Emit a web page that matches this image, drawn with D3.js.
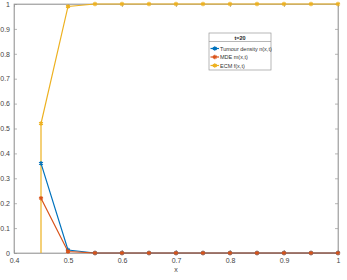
<!DOCTYPE html>
<html>
<head>
<meta charset="utf-8">
<script src="https://cdn.jsdelivr.net/npm/d3@7"></script>
<style>
  body { margin: 0; background: #fff; }
  text { font-family: "Liberation Sans", Arial, sans-serif; }
</style>
</head>
<body>
<svg width="347" height="280"></svg>
<script>
var xs = [0.45, 0.5, 0.55, 0.6, 0.65, 0.7, 0.75, 0.8, 0.85, 0.9, 0.95, 1.0];
var tumour = [0.36, 0.012, 0, 0, 0, 0, 0, 0, 0, 0, 0, 0];
var mde = [0.22, 0.006, 0, 0, 0, 0, 0, 0, 0, 0, 0, 0];
var ecm = [0.52, 0.99, 1, 1, 1, 1, 1, 1, 1, 1, 1, 1];
var ecmStart = 0; // value just left of the first grid point
var xTicks = [0.4, 0.5, 0.6, 0.7, 0.8, 0.9, 1];
var yTicks = [0, 0.1, 0.2, 0.3, 0.4, 0.5, 0.6, 0.7, 0.8, 0.9, 1];
var legendTitle = "t=20";
var seriesNames = ["Tumour density n(x,t)", "MDE m(x,t)", "ECM f(x,t)"];
var colors = ["#0072BD", "#D95319", "#EDB120"];

var svg = d3.select("svg");
var mLeft = 14, mRight = 338, mTop = 4, mBottom = 253;

var x = d3.scaleLinear().domain([0.4, 1]).range([mLeft, mRight]);
var y = d3.scaleLinear().domain([0, 1]).range([mBottom, mTop]);

// box
svg.append("rect")
  .attr("x", mLeft).attr("y", mTop)
  .attr("width", mRight - mLeft).attr("height", mBottom - mTop)
  .attr("fill", "none").attr("stroke", "#999").attr("stroke-width", 0.7);

var gx = svg.append("g").attr("transform", "translate(0," + mBottom + ")")
  .call(d3.axisBottom(x).tickValues(xTicks).tickSize(-3).tickPadding(5)
    .tickFormat(function (d) { return d === 1 ? "1" : d3.format(".1f")(d); }));
var gy = svg.append("g").attr("transform", "translate(" + mLeft + ",0)")
  .call(d3.axisLeft(y).tickValues(yTicks).tickSize(-3).tickPadding(4)
    .tickFormat(function (d) { return d === 0 ? "0" : d === 1 ? "1" : d3.format(".1f")(d); }));
var gr = svg.append("g").attr("transform", "translate(" + mRight + ",0)")
  .call(d3.axisRight(y).tickValues(yTicks).tickSize(-3).tickFormat(""));
var gt = svg.append("g").attr("transform", "translate(0," + mTop + ")")
  .call(d3.axisTop(x).tickValues(xTicks).tickSize(-3).tickFormat(""));

[gx, gy, gr, gt].forEach(function (g) {
  g.select(".domain").attr("stroke", "#999").attr("stroke-width", 0.7);
  g.selectAll(".tick line").attr("stroke", "#999").attr("stroke-width", 0.7);
  g.selectAll("text").attr("fill", "#444").style("font-size", "7px");
});

svg.append("text").attr("x", x(0.7)).attr("y", 272)
  .attr("text-anchor", "middle").attr("fill", "#444")
  .style("font-size", "7px").text("x");

var line = d3.line()
  .x(function (d) { return x(d[0]); })
  .y(function (d) { return y(d[1]); });

var series = [
  xs.map(function (v, i) { return [v, tumour[i]]; }),
  xs.map(function (v, i) { return [v, mde[i]]; }),
  xs.map(function (v, i) { return [v, ecm[i]]; })
];

var star = d3.symbol().type(d3.symbolAsterisk).size(14);

[2, 0, 1].forEach(function (k) {
  var pts = series[k];
  var path = k === 2 ? [[xs[0], ecmStart]].concat(pts) : pts;
  svg.append("path").datum(path)
    .attr("d", line).attr("fill", "none")
    .attr("stroke", colors[k]).attr("stroke-width", 1.2);
  svg.append("g").selectAll("path").data(pts).enter().append("path")
    .attr("transform", function (d) { return "translate(" + x(d[0]) + "," + y(d[1]) + ")"; })
    .attr("d", star)
    .attr("fill", "none")
    .attr("stroke", colors[k]).attr("stroke-width", 1.2);
});

// legend
var lg = svg.append("g").attr("transform", "translate(209,33)");
lg.append("rect").attr("width", 62).attr("height", 37)
  .attr("fill", "#fff").attr("stroke", "#999").attr("stroke-width", 0.7);
lg.append("line").attr("x1", 0).attr("x2", 62).attr("y1", 8.5).attr("y2", 8.5)
  .attr("stroke", "#999").attr("stroke-width", 0.7);
lg.append("text").attr("x", 31).attr("y", 7)
  .attr("text-anchor", "middle").attr("fill", "#222")
  .style("font-size", "5.5px").style("font-weight", "bold").text(legendTitle);
seriesNames.forEach(function (name, i) {
  var yy = 15.5 + i * 8.5;
  lg.append("line").attr("x1", 1.5).attr("x2", 10).attr("y1", yy).attr("y2", yy)
    .attr("stroke", colors[i]).attr("stroke-width", 1.2);
  lg.append("path").attr("transform", "translate(5.8," + yy + ")")
    .attr("d", star).attr("fill", "none")
    .attr("stroke", colors[i]).attr("stroke-width", 1.2);
  lg.append("text").attr("x", 11).attr("y", yy + 2)
    .attr("fill", "#333").style("font-size", "5.5px").text(name);
});
</script>
</body>
</html>
